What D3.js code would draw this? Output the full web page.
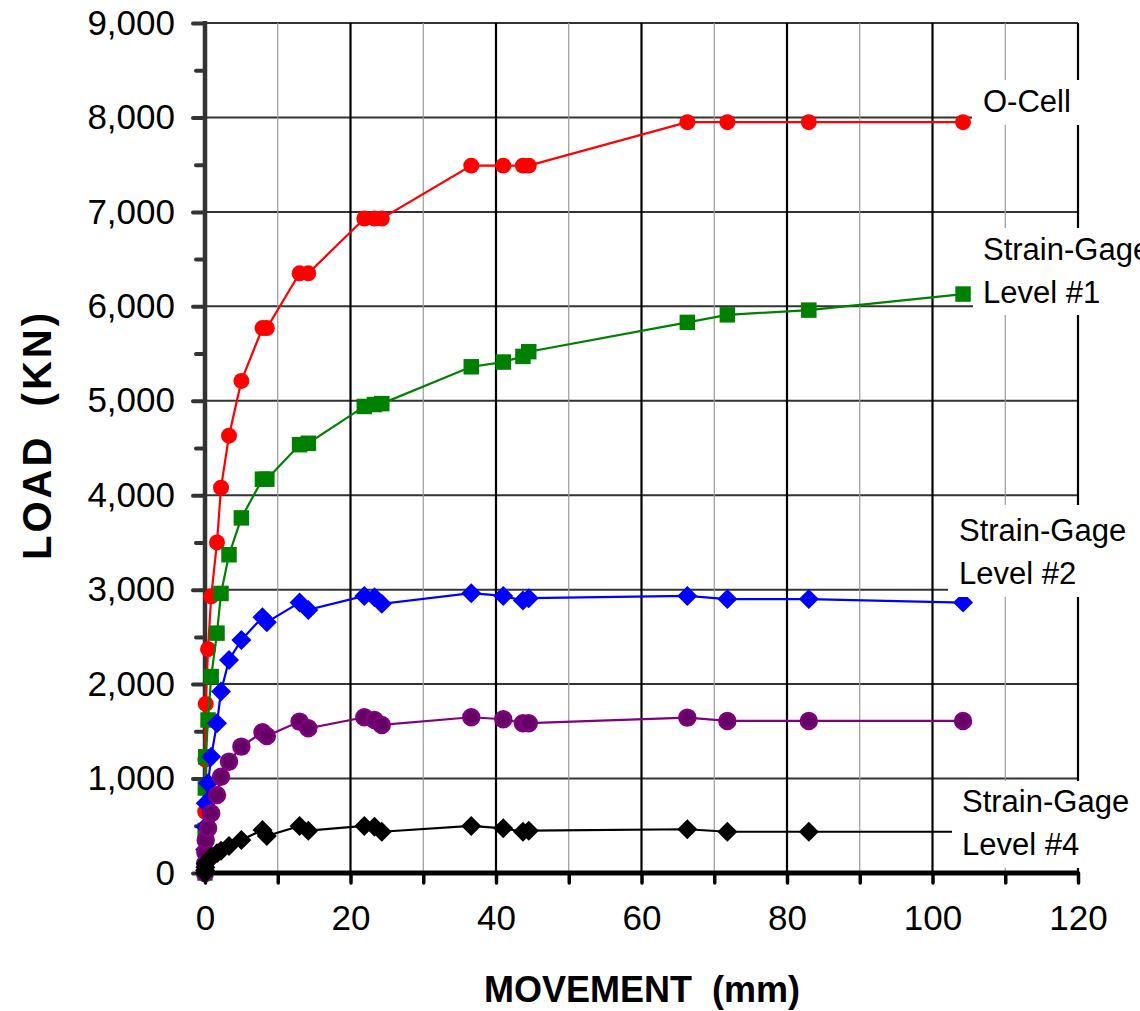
<!DOCTYPE html>
<html>
<head>
<meta charset="utf-8">
<script src="https://cdn.jsdelivr.net/npm/d3@7"></script>
<style>
  body { margin: 0; background: #fff; }
  text { font-family: Arial, "Liberation Sans", sans-serif; }
</style>
</head>
<body>
<svg width="1140" height="1011"></svg>
<script>
// movement (mm), shared by all series
let movement = [0, 0.02, 0.05, 0.1, 0.42, 0.85, 1.65, 2.2, 3.3, 5.0, 7.9, 8.5,
    13.0, 14.2, 21.9, 23.3, 24.3, 36.6, 41.0, 43.7, 44.5, 66.3, 71.8, 83.0, 104.2]

let oCell = [0, 650, 1200, 1790, 2370, 2930, 3500, 4080, 4630, 5210, 5770, 5770,
    6350, 6350, 6930, 6930, 6930, 7490, 7490, 7490, 7490, 7950, 7950, 7950, 7950]
let level1 = [0, 450, 900, 1230, 1620, 2080, 2540, 2960, 3370, 3760, 4170, 4170,
    4535, 4550, 4940, 4960, 4970, 5360, 5410, 5470, 5520, 5830, 5910, 5960, 6130]
let level2 = [0, 250, 490, 738, 950, 1232, 1586, 1921, 2256, 2468, 2709, 2656,
    2863, 2786, 2934, 2920, 2850, 2963, 2934, 2885, 2910, 2934, 2900, 2900, 2863]
let level3 = [0, 100, 220, 350, 473, 632, 826, 1020, 1179, 1338, 1490, 1450,
    1603, 1532, 1649, 1621, 1568, 1649, 1628, 1586, 1586, 1645, 1610, 1610, 1610]
let level4 = [0, 30, 60, 100, 130, 173, 210, 236, 286, 350, 455, 392,
    498, 448, 498, 490, 437, 498, 473, 437, 448, 463, 437, 437, 437]

let xTicks = [0, 20, 40, 60, 80, 100, 120]
let yTicks = [0, 1000, 2000, 3000, 4000, 5000, 6000, 7000, 8000, 9000]

let series = [
    {name: "oCell", values: oCell, color: "#ff0000", fill: "#ff0000", shape: "circle"},
    {name: "level1", values: level1, color: "#008000", fill: "#008000", shape: "square"},
    {name: "level2", values: level2, color: "#0000ff", fill: "#0000ff", shape: "diamond"},
    {name: "level3", values: level3, color: "#800080", fill: "#660066", shape: "circle"},
    {name: "level4", values: level4, color: "#000000", fill: "#000000", shape: "diamond"}
]

let labels = [
    {lines: ["O-Cell"], x: 983, y: 112, box: [972, 80, 168, 45]},
    {lines: ["Strain-Gage", "Level #1"], x: 983, y: 260, box: [973, 228, 167, 87]},
    {lines: ["Strain-Gage", "Level #2"], x: 959, y: 541, box: [948, 505, 192, 92]},
    {lines: ["Strain-Gage", "Level #4"], x: 962, y: 812, box: [952, 781, 188, 87]}
]

const svg = d3.select("svg")

const plotLeft = 205, plotRight = 1078, plotTop = 23, plotBottom = 873

let scX = d3.scaleLinear().domain([0, 120]).range([plotLeft, plotRight])
let scY = d3.scaleLinear().domain([0, 9000]).range([plotBottom, plotTop])

// grid
let grid = svg.append("g")
grid.selectAll("line.h")
    .data(yTicks.filter(d => d > 0)).enter().append("line")
    .attr("x1", plotLeft).attr("x2", plotRight)
    .attr("y1", d => scY(d)).attr("y2", d => scY(d))
    .attr("stroke", "#333").attr("stroke-width", 2)

grid.selectAll("line.minor")
    .data(d3.range(10, 120, 20)).enter().append("line")
    .attr("x1", d => scX(d)).attr("x2", d => scX(d))
    .attr("y1", plotTop).attr("y2", plotBottom)
    .attr("stroke", "#999").attr("stroke-width", 1.2)

grid.selectAll("line.major")
    .data(xTicks.filter(d => d > 0)).enter().append("line")
    .attr("x1", d => scX(d)).attr("x2", d => scX(d))
    .attr("y1", plotTop).attr("y2", plotBottom)
    .attr("stroke", "#000").attr("stroke-width", 2.2)

// axes
let yMinor = d3.axisLeft(scY).tickValues(d3.range(500, 9000, 1000)).tickSize(9).tickFormat("")
let yAxis = d3.axisLeft(scY).tickValues(yTicks).tickSize(12).tickPadding(18)
    .tickFormat(d3.format(","))
let xAxis = d3.axisBottom(scX).tickValues(d3.range(0, 121, 10)).tickSize(10).tickPadding(22)
    .tickFormat(d => d % 20 === 0 ? d : "")

let gy2 = svg.append("g").attr("transform", `translate(${plotLeft},0)`).call(yMinor)
let gy = svg.append("g").attr("transform", `translate(${plotLeft},0)`).call(yAxis)
let gx = svg.append("g").attr("transform", `translate(0,${plotBottom})`).call(xAxis)

gy.select(".domain").remove()
gy2.select(".domain").remove()
gx.select(".domain").remove()
;[gy, gy2].forEach(g => g.selectAll(".tick line")
    .attr("stroke", "#333").attr("stroke-width", 4).attr("stroke-linecap", "round"))
gx.selectAll(".tick line").attr("stroke", "#000").attr("stroke-width", 3.5)
    .attr("stroke-linecap", "round")
gy.selectAll(".tick text").attr("font-size", 35).attr("fill", "#000")
gx.selectAll(".tick text").attr("font-size", 35).attr("fill", "#000")

svg.append("line")
    .attr("x1", plotLeft).attr("x2", plotLeft).attr("y1", plotTop - 2).attr("y2", plotBottom + 2)
    .attr("stroke", "#333").attr("stroke-width", 4.5)
svg.append("line")
    .attr("x1", plotLeft - 2).attr("x2", plotRight + 1).attr("y1", plotBottom).attr("y2", plotBottom)
    .attr("stroke", "#000").attr("stroke-width", 5)

// series
let line = d3.line()
    .x((d, i) => scX(movement[i]))
    .y(d => scY(d))

let symbols = {
    circle: d3.symbol(d3.symbolCircle, 200),
    square: d3.symbol(d3.symbolSquare, 240),
    diamond: d3.symbol(d3.symbolSquare, 200)
}

series.forEach(s => {
    let g = svg.append("g")
    g.append("path")
        .attr("d", line(s.values))
        .attr("fill", "none")
        .attr("stroke", s.color)
        .attr("stroke-width", 2.2)
    g.selectAll("path.mark")
        .data(s.values).enter().append("path")
        .attr("class", "mark")
        .attr("d", symbols[s.shape])
        .attr("transform", (d, i) => `translate(${scX(movement[i])},${scY(d)})` +
            (s.shape === "diamond" ? " rotate(45)" : ""))
        .attr("fill", s.fill)
        .attr("stroke", s.color)
        .attr("stroke-width", s.name === "level3" ? 2.5 : 0)
})

// right-hand labels
labels.forEach(l => {
    svg.append("rect")
        .attr("x", l.box[0]).attr("y", l.box[1])
        .attr("width", l.box[2]).attr("height", l.box[3])
        .attr("fill", "#fff")
    let t = svg.append("text")
        .attr("x", l.x).attr("y", l.y)
        .attr("font-size", 31)
    l.lines.forEach((s, i) => t.append("tspan")
        .attr("x", l.x).attr("dy", i === 0 ? 0 : 43).text(s))
})

// axis titles
svg.append("text")
    .attr("transform", "translate(51,435) rotate(-90)")
    .attr("text-anchor", "middle")
    .attr("font-size", 40).attr("font-weight", "bold")
    .attr("letter-spacing", 3)
    .attr("xml:space", "preserve")
    .text("LOAD  (KN)")

svg.append("text")
    .attr("x", 642).attr("y", 1002)
    .attr("text-anchor", "middle")
    .attr("font-size", 36).attr("font-weight", "bold")
    .attr("xml:space", "preserve")
    .text("MOVEMENT  (mm)")
</script>
</body>
</html>
